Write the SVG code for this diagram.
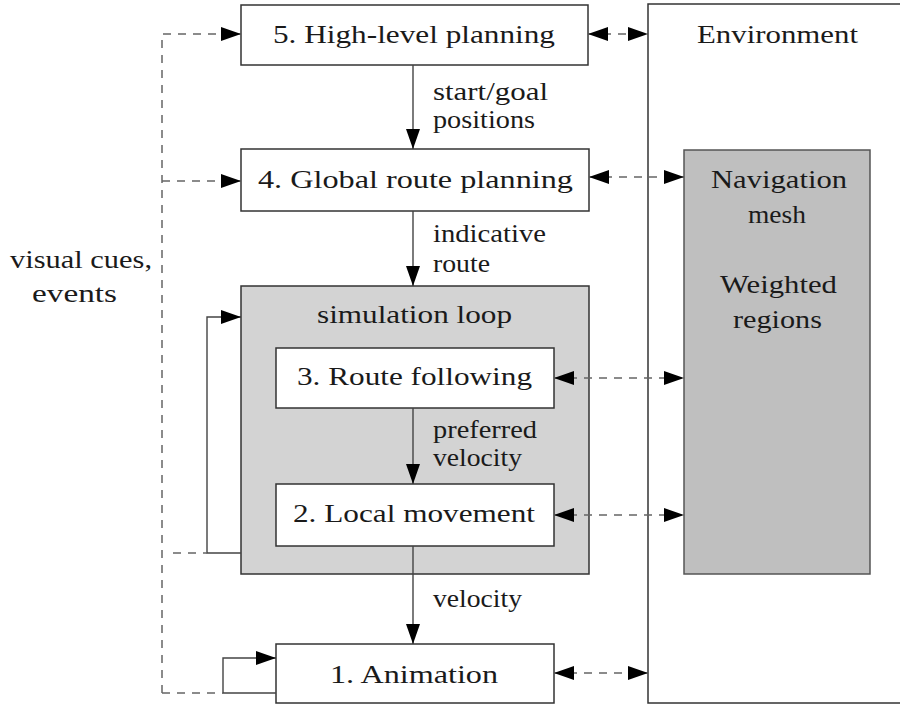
<svg xmlns="http://www.w3.org/2000/svg" width="900" height="705" viewBox="0 0 900 705">
<style>
text{font-family:"Liberation Serif","Times New Roman",serif;font-size:26px;fill:#1a1a1a}
.box{fill:#fff;stroke:#333;stroke-width:1.5}
.loop{fill:#d3d3d3;stroke:#333;stroke-width:1.5}
.mesh{fill:#bfbfbf;stroke:#555;stroke-width:1.5}
.solid{fill:none;stroke:#444;stroke-width:1.4}
.dash{fill:none;stroke:#666;stroke-width:1.5;stroke-dasharray:8 7}
</style>
<defs>
<marker id="ah" markerUnits="userSpaceOnUse" markerWidth="20" markerHeight="14" refX="20" refY="7" orient="auto-start-reverse" viewBox="0 0 20 14">
<path d="M0,0 L20,7 L0,14 z" fill="#000" stroke="none"/>
</marker>
</defs>

<g id="environment">
<rect class="box" x="648" y="4" width="260" height="699"/>
<text x="697" y="43" textLength="161" lengthAdjust="spacingAndGlyphs">Environment</text>
</g>
<g id="navmesh">
<rect class="mesh" x="684" y="150" width="186" height="424"/>
<text x="711" y="188" textLength="136" lengthAdjust="spacingAndGlyphs">Navigation</text>
<text x="748" y="223" textLength="58" lengthAdjust="spacingAndGlyphs">mesh</text>
<text x="720" y="293" textLength="117" lengthAdjust="spacingAndGlyphs">Weighted</text>
<text x="733" y="328" textLength="89" lengthAdjust="spacingAndGlyphs">regions</text>
</g>

<g id="simloop">
<rect class="loop" x="241" y="286" width="348" height="288"/>
<text x="317" y="323" textLength="195" lengthAdjust="spacingAndGlyphs">simulation loop</text>
</g>

<g id="n5">
<rect class="box" x="241" y="5" width="347" height="60"/>
<text x="273" y="43" textLength="282" lengthAdjust="spacingAndGlyphs">5. High-level planning</text>
</g>
<g id="n4">
<rect class="box" x="241" y="149" width="348" height="62"/>
<text x="258" y="188" textLength="315" lengthAdjust="spacingAndGlyphs">4. Global route planning</text>
</g>
<g id="n3">
<rect class="box" x="276" y="348" width="278" height="60"/>
<text x="297" y="385" textLength="235" lengthAdjust="spacingAndGlyphs">3. Route following</text>
</g>
<g id="n2">
<rect class="box" x="276" y="484" width="278" height="62"/>
<text x="293" y="522" textLength="242" lengthAdjust="spacingAndGlyphs">2. Local movement</text>
</g>
<g id="n1">
<rect class="box" x="276" y="644" width="278" height="59"/>
<text x="330" y="683" textLength="168" lengthAdjust="spacingAndGlyphs">1. Animation</text>
</g>

<g id="connectors">
<path class="solid" d="M413,65 V149" marker-end="url(#ah)"/>
<path class="solid" d="M413,211 V286" marker-end="url(#ah)"/>
<path class="solid" d="M413,408 V484" marker-end="url(#ah)"/>
<path class="solid" d="M413,546 V644" marker-end="url(#ah)"/>
<path class="solid" d="M241,553 H207 V317 H241" marker-end="url(#ah)"/>
<path class="solid" d="M276,693 H223 V658 H276" marker-end="url(#ah)"/>

<path class="dash" d="M162,693 V34 H241" marker-end="url(#ah)"/>
<path class="dash" d="M162,181 H241" marker-end="url(#ah)"/>
<path class="dash" d="M162,693 H223"/>
<path class="dash" d="M173,553 H207"/>

<path class="dash" d="M588,34 H648" marker-start="url(#ah)" marker-end="url(#ah)"/>
<path class="dash" d="M589,177 H684" marker-start="url(#ah)" marker-end="url(#ah)"/>
<path class="dash" d="M554,378 H684" marker-start="url(#ah)" marker-end="url(#ah)"/>
<path class="dash" d="M554,515 H684" marker-start="url(#ah)" marker-end="url(#ah)"/>
<path class="dash" d="M554,673 H648" marker-start="url(#ah)" marker-end="url(#ah)"/>

<text x="433" y="100" textLength="115" lengthAdjust="spacingAndGlyphs">start/goal</text>
<text x="433" y="128" textLength="102" lengthAdjust="spacingAndGlyphs">positions</text>
<text x="433" y="242" textLength="113" lengthAdjust="spacingAndGlyphs">indicative</text>
<text x="433" y="272" textLength="57" lengthAdjust="spacingAndGlyphs">route</text>
<text x="433" y="438" textLength="104" lengthAdjust="spacingAndGlyphs">preferred</text>
<text x="433" y="466" textLength="89" lengthAdjust="spacingAndGlyphs">velocity</text>
<text x="433" y="607" textLength="89" lengthAdjust="spacingAndGlyphs">velocity</text>
<text x="10" y="268" textLength="142" lengthAdjust="spacingAndGlyphs">visual cues,</text>
<text x="32" y="302" textLength="85" lengthAdjust="spacingAndGlyphs">events</text>
</g>
</svg>
